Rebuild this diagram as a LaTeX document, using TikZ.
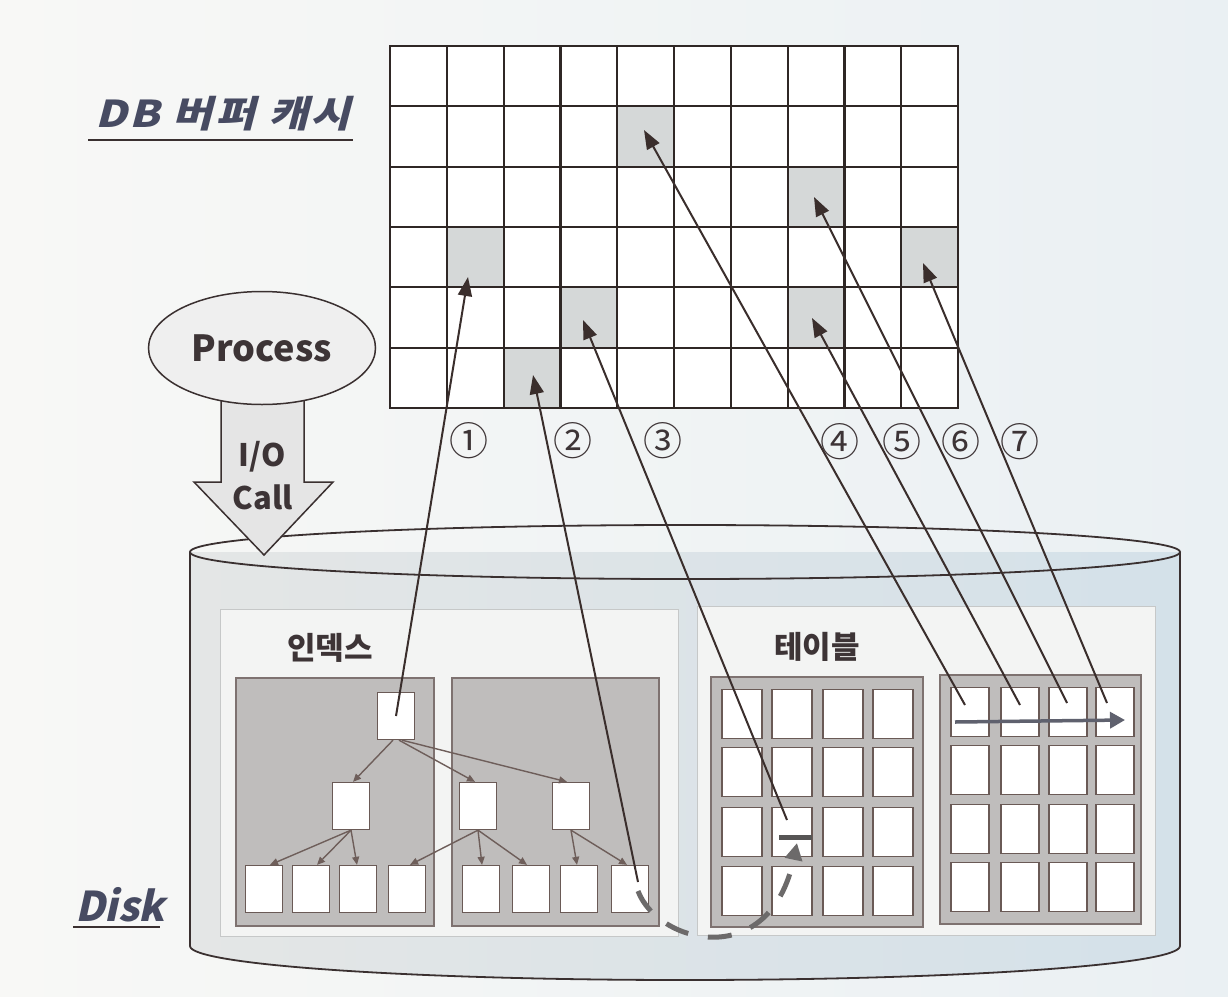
\documentclass[tikz,border=0pt]{standalone}
\usepackage{fontspec}
\usepackage{graphicx}
\setmainfont{Noto Sans CJK KR}
\newfontfamily\krsl[FakeSlant=0.22,LetterSpace=6]{Noto Sans CJK KR}
\newfontfamily\krdisk[FakeSlant=0.22]{Noto Sans CJK KR}
\usetikzlibrary{arrows.meta,shapes.geometric}
\definecolor{bgL}{HTML}{F8F8F6}
\definecolor{bgR}{HTML}{EAF0F3}
\definecolor{cylL}{HTML}{E4E6E6}
\definecolor{cylR}{HTML}{D4E1E9}
\definecolor{cylb}{HTML}{3A3030}
\definecolor{panelf}{HTML}{F3F4F3}
\definecolor{panelb}{HTML}{C6C8C8}
\definecolor{subf}{HTML}{BFBDBC}
\definecolor{subb}{HTML}{7E7270}
\definecolor{tnb}{HTML}{6A5A56}
\definecolor{tac}{HTML}{6E5E5A}
\definecolor{gridc}{HTML}{2F2725}
\definecolor{hitc}{HTML}{D5D8D8}
\definecolor{fc}{HTML}{3A2E2C}
\definecolor{txt}{HTML}{3D3436}
\definecolor{titc}{HTML}{474B62}
\definecolor{dashc}{HTML}{6C6A6A}
\definecolor{scanc}{HTML}{5F616E}
\definecolor{procf}{HTML}{EFEFEF}
\begin{document}
\begin{tikzpicture}[x=1pt,y=-1pt,
  gridline/.style={draw=gridc, line width=2.2pt, line cap=rect},
  panel/.style={draw=panelb, fill=panelf, line width=1pt},
  subbox/.style={draw=subb, fill=subf, line width=1.5pt},
  tnode/.style={draw=tnb, fill=white, line width=1.3pt, minimum width=37pt, minimum height=47pt, inner sep=0pt},
  tcell/.style={draw=tnb, fill=white, line width=1.4pt, minimum width=#1, minimum height=49pt, inner sep=0pt},
  tarrow/.style={draw=tac, line width=1.4pt, -{Triangle[length=8pt,width=7pt]}},
  fetch/.style={draw=fc, line width=2pt, -{Triangle[length=19pt,width=14pt]}},
  num/.style={font=\fontsize{39}{39}\selectfont, text=txt, inner sep=0pt},
  lbl/.style={font=\bfseries\fontsize{31}{34}\selectfont, text=txt, inner sep=0pt},
  titlebox/.style={font=\krsl\bfseries\fontsize{37}{42}\selectfont, text=titc, inner sep=0pt},
  diskbox/.style={font=\krdisk\bfseries\fontsize{41}{44}\selectfont, text=titc, inner sep=0pt},
  uline/.style={draw=cylb, line width=2pt},
  procshape/.style={ellipse, draw=cylb, fill=procf, line width=1.5pt, minimum width=227pt, minimum height=113pt, inner sep=0pt, font=\bfseries\fontsize{36}{40}\selectfont, text=txt},
  iotext/.style={font=\bfseries\fontsize{31}{34}\selectfont, text=txt, inner sep=0pt},
  dashpath/.style={draw=dashc, line width=5pt, dash pattern=on 24pt off 20pt, -{Triangle[length=17pt,width=17pt]}},
  tbar/.style={draw=dashc!80!black, line width=5pt},
  scan/.style={draw=scanc, line width=3.5pt, -{Triangle[length=15pt,width=16pt]}}
]
% background
\shade[left color=bgL, right color=bgR] (0,0) rectangle (1228,996);
\useasboundingbox (0,0) rectangle (1228,996);

% cylinder
\shade[left color=cylL, right color=cylR] (190,552) -- (190,946) .. controls (190,964.8) and (411.6,980) .. (685,980) .. controls (958.4,980) and (1180,964.8) .. (1180,946) -- (1180,552) -- cycle;
\draw[draw=cylb, line width=1.8pt] (190,552) -- (190,946) .. controls (190,964.8) and (411.6,980) .. (685,980) .. controls (958.4,980) and (1180,964.8) .. (1180,946) -- (1180,552);
\draw[draw=cylb, line width=1.8pt] (685,552) ellipse [x radius=495pt, y radius=27pt];

% panels
\draw[panel] (220,609) rectangle (678,936);
\draw[panel] (697,606) rectangle (1155,935);
\node[lbl] (lidx) at (330,648) {인덱스};
\node[lbl] (ltab) at (817,647) {테이블};

% index sub-boxes
\draw[subbox] (236,678) rectangle (434,926);
\draw[subbox] (452,678) rectangle (659,926);

% tree nodes
\node[tnode] (root) at (396,716) {};
\node[tnode] (A) at (351,806) {};
\node[tnode] (B) at (478,806) {};
\node[tnode] (C) at (571,806) {};
\foreach \x [count=\i] in {264,311,358,407,481,531,579,630}
  \node[tnode] (L\i) at (\x,889) {};

% tree arrows
\draw[tarrow] ([xshift=-3pt]root.south) -- ([xshift=2pt]A.north);
\draw[tarrow] ([xshift=3pt]root.south) -- ([xshift=-3pt]B.north);
\draw[tarrow] ([xshift=6pt]root.south) -- ([xshift=-4pt]C.north);
\draw[tarrow] (A.south) -- ([xshift=6pt]L1.north);
\draw[tarrow] (A.south) -- ([xshift=6pt]L2.north);
\draw[tarrow] (A.south) -- ([xshift=-1pt]L3.north);
\draw[tarrow] (B.south) -- ([xshift=3pt]L4.north);
\draw[tarrow] (B.south) -- ([xshift=1pt]L5.north);
\draw[tarrow] (B.south) -- ([xshift=-4pt]L6.north);
\draw[tarrow] (C.south) -- ([xshift=-2pt]L7.north);
\draw[tarrow] (C.south) -- ([xshift=-3pt]L8.north);

% table sub-boxes
\draw[subbox] (711,677) rectangle (923,927);
\draw[subbox] (940,675) rectangle (1141,924);
\foreach \y [count=\r] in {714,772,832,891}
  \foreach \x [count=\c] in {742,792,843,893}
    \node[tcell=40pt] (TL\r\c) at (\x,\y) {};
\foreach \y [count=\r] in {712,770,829,887}
  \foreach \x [count=\c] in {970,1020,1068,1115}
    \node[tcell=38pt] (TR\r\c) at (\x,\y) {};

% buffer cache grid
\fill[white] (390,46) rectangle (958,408);
\foreach \r/\c in {1/4,2/7,3/1,3/9,4/3,4/7,5/2}
  \fill[hitc] ({390+\c*56.8},{46+\r*60.333}) rectangle ++(56.8,60.333);
\foreach \i in {0,...,10}
  \draw[gridline] ({390+\i*56.8},46) -- ({390+\i*56.8},408);
\foreach \j in {0,...,6}
  \draw[gridline] (390,{46+\j*60.333}) -- (958,{46+\j*60.333});

% titles
\node[titlebox] (dbl) at (223,114) {\scalebox{1.18}[1]{DB 버퍼 캐시}};
\draw[uline] (88,140) -- (353,140);
\node[diskbox] (disk) at (120,905) {Disk};
\draw[uline] (73,927) -- (160,927);

% process + I/O call arrow
\filldraw[draw=cylb, fill=procf!96!black, line width=1.5pt] (221,395) -- (304,395) -- (304,482) -- (333,482) -- (264,555) -- (194,482) -- (221,482) -- cycle;
\node[procshape] (proc) at (262,348) {Process};
\node[iotext] (io) at (262,457) {I/O};
\node[iotext] (call) at (263,497) {Call};

% numbers
\node[num] (n1) at (469,441) {①};
\node[num] (n2) at (573,441) {②};
\node[num] (n3) at (663,441) {③};
\node[num] (n4) at (840,442) {④};
\node[num] (n5) at (902,442) {⑤};
\node[num] (n6) at (961,442) {⑥};
\node[num] (n7) at (1020,442) {⑦};

% fetch lines
\coordinate (t1) at (468,277);
\coordinate (t2) at (533,375);
\coordinate (t3) at (583,320);
\coordinate (t4) at (644,130);
\coordinate (t5) at (812,318);
\coordinate (t6) at (814,197);
\coordinate (t7) at (923,263);
\coordinate (s2) at (638,882);
\coordinate (s3) at (787,820);
\coordinate (s4) at (965,705);
\coordinate (s5) at (1020,705);
\coordinate (s6) at (1067,703);
\coordinate (s7) at (1107,703);
\draw[fetch] (root.center) -- (t1);
\draw[fetch] (s2) -- (t2);
\draw[fetch] (s3) -- (t3);
\draw[fetch] (s4) -- (t4);
\draw[fetch] (s5) -- (t5);
\draw[fetch] (s6) -- (t6);
\draw[fetch] (s7) -- (t7);

% dashed jump from leaf to table row
\coordinate (d0) at (638,891);
\coordinate (d1) at (797,843);
\draw[dashpath] (d0) .. controls (658,944) and (770,972) .. (d1);
\coordinate (tb1) at (779,837);
\coordinate (tb2) at (812,837);
\draw[tbar] (tb1) -- (tb2);

% scan arrow
\coordinate (sc0) at (955,722);
\coordinate (sc1) at (1125,720);
\draw[scan] (sc0) -- (sc1);
\end{tikzpicture}
\end{document}
